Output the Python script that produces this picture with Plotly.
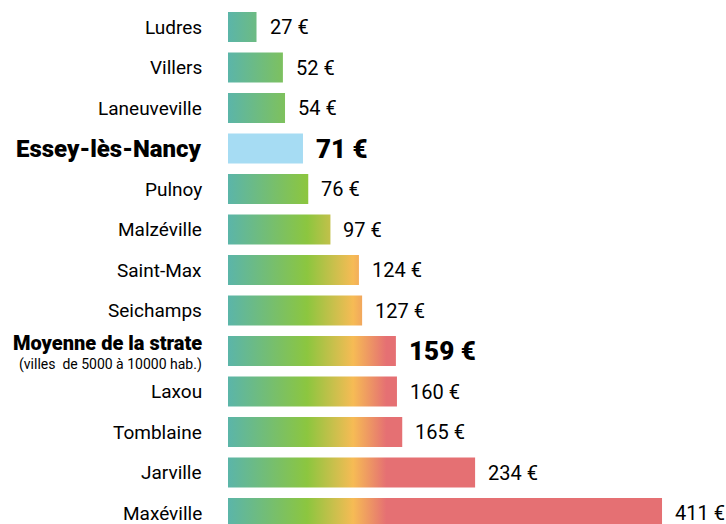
import plotly.graph_objects as go

# ─── Données ─────────────────────────────────────────────────────────────
COMMUNES = ["Ludres", "Villers", "Laneuveville", "Essey-lès-Nancy", "Pulnoy",
            "Malzéville", "Saint-Max", "Seichamps", "Moyenne de la strate",
            "Laxou", "Tomblaine", "Jarville", "Maxéville"]
MONTANTS = [27, 52, 54, 71, 76, 97, 124, 127, 159, 160, 165, 234, 411]
SOUS_TITRE_STRATE = "(villes  de 5000 à 10000 hab.)"
VILLE = "Essey-lès-Nancy"
STRATE = "Moyenne de la strate"

# ─── Couleurs ────────────────────────────────────────────────────────────
TURQUOISE = "#5bb5a9"
VERT      = "#8cc63f"
JAUNE     = "#f6bb55"
ROUGE     = "#e57073"
BLEU      = "#a6dcf3"

FONT = "Roboto"
HAUTEUR = 0.74
LIGNE_PX = 40.5

fig = go.Figure()

for i, (nom, val) in enumerate(zip(COMMUNES, MONTANTS)):
    y0, y1 = i - HAUTEUR / 2, i + HAUTEUR / 2
    trace = dict(
        x=[0, val, val, 0, 0], y=[y0, y0, y1, y1, y0],
        fill="toself", mode="lines", line=dict(width=0),
        hoverinfo="skip", showlegend=False,
    )
    if nom == VILLE:
        trace["fillcolor"] = BLEU
    else:
        trace["fillgradient"] = dict(
            type="horizontal", start=0, stop=150,
            colorscale=[[0, TURQUOISE], [0.5, VERT], [0.79, JAUNE], [1, ROUGE]],
        )
    fig.add_trace(go.Scatter(**trace))

    # libellés à gauche
    if nom == VILLE:
        fig.add_annotation(x=0, y=i, xref="paper", yref="y", xanchor="right",
                           xshift=-24, showarrow=False, text=nom,
                           font=dict(family=FONT, size=24, weight=900,
                                     color="black"))
    elif nom == STRATE:
        fig.add_annotation(x=0, y=i, xref="paper", yref="y", xanchor="right",
                           yanchor="bottom", yshift=-6,
                           xshift=-24, showarrow=False, text=nom,
                           font=dict(family=FONT, size=20, weight=900,
                                     color="black"))
        fig.add_annotation(x=0, y=i, xref="paper", yref="y", xanchor="right",
                           yanchor="top", yshift=-3,
                           xshift=-24, showarrow=False, text=SOUS_TITRE_STRATE,
                           font=dict(family=FONT, size=14, color="black"))
    else:
        fig.add_annotation(x=0, y=i, xref="paper", yref="y", xanchor="right",
                           xshift=-24, showarrow=False, text=nom,
                           font=dict(family=FONT, size=19, color="black"))

    # valeurs à droite des barres
    gras = nom in (VILLE, STRATE)
    fig.add_annotation(x=val, y=i, xref="x", yref="y", xanchor="left",
                       xshift=12, borderpad=0, showarrow=False,
                       text=f"{val} €",
                       font=dict(family=FONT, size=26 if gras else 20,
                                 weight=900 if gras else 400, color="black"))

# ─── Mise en page ────────────────────────────────────────────────────────
haut = -27 / LIGNE_PX
bas = (524 - 27) / LIGNE_PX
fig.update_layout(
    width=726, height=524,
    margin=dict(l=228, r=0, t=0, b=0),
    plot_bgcolor="white", paper_bgcolor="white",
    xaxis=dict(range=[0, 498 / 1.056], visible=False),
    yaxis=dict(range=[bas, haut], visible=False),
    showlegend=False,
)

fig.write_html("out.html", config={"displayModeBar": False},
               post_script="document.body.style.margin='0';")
